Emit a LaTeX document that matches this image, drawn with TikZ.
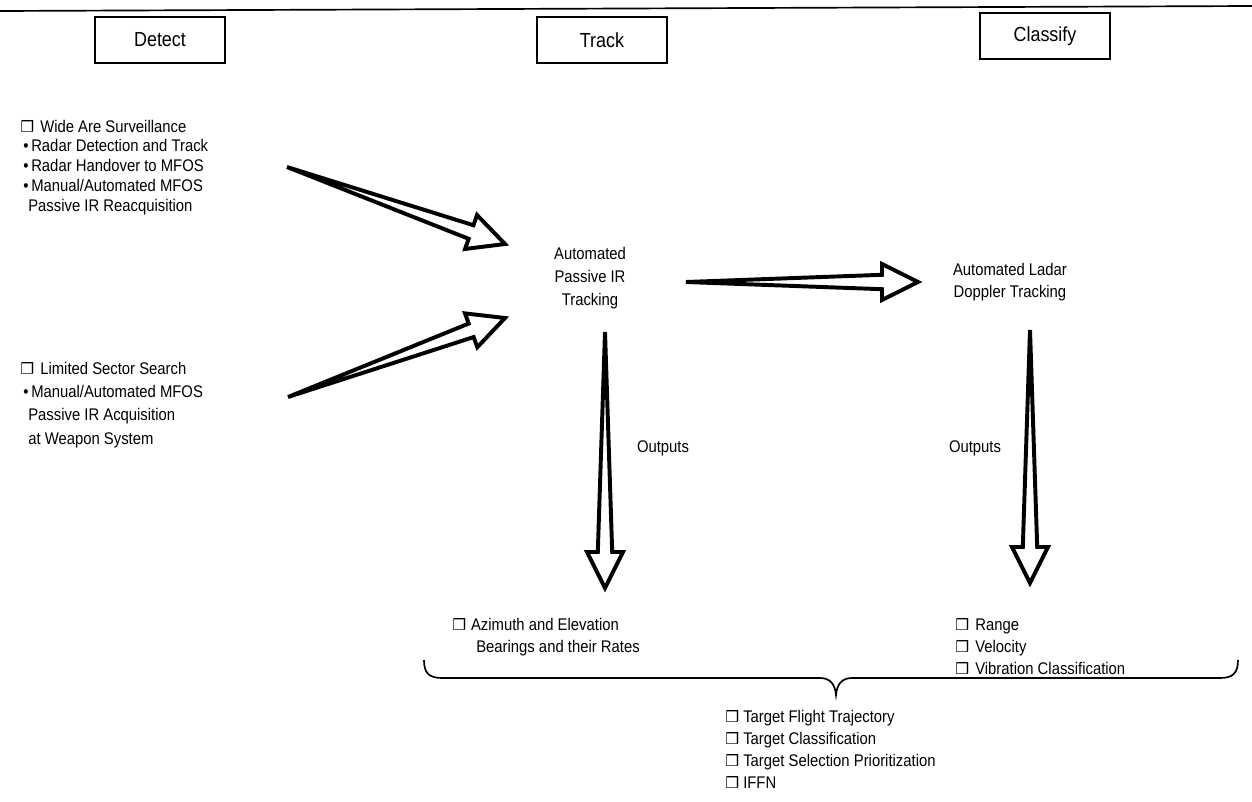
\documentclass[tikz,border=0pt]{standalone}
\usepackage{fontspec}
\setmainfont{Liberation Sans}[FakeStretch=0.88]
\newfontfamily\symfont{DejaVu Sans}
\usetikzlibrary{calc}

% check box and bullet marks
\newcommand{\chk}[1][0.5cm]{\makebox[#1][l]{{\symfont\fontsize{11}{12}\selectfont ❒}}}
\newcommand{\bul}{\makebox[0.2cm][l]{\textbullet}}

% hollow wedge arrow from a tail point to a tip point
\newcommand{\wedgearrow}[2]{%
  \path ($(#2)!0.9cm!(#1)$) coordinate (hb);
  \draw[wedge] (#1) -- ($(hb)!0.18cm!90:(#2)$) -- ($(hb)!0.45cm!90:(#2)$) -- (#2)
    -- ($(hb)!0.45cm!-90:(#2)$) -- ($(hb)!0.18cm!-90:(#2)$) -- cycle;}

\begin{document}
\begin{tikzpicture}[
    x=0.025cm, y=-0.025cm,
    font=\fontsize{12}{15}\selectfont,
    phase/.style={draw, line width=1pt, minimum width=3.25cm, minimum height=1.15cm,
      font=\fontsize{14.5}{16}\selectfont},
    item/.style={anchor=west, inner sep=0pt, text height=1.6ex, text depth=0.3ex},
    label/.style={align=center, inner sep=0pt},
    wedge/.style={line width=2.8pt, line join=miter, fill=white}
]

\useasboundingbox (0,0) rectangle (1252,802);

% Top rule
\draw[line width=1.2pt] (0,11) -- (1252,6);

% Phase boxes
\node[phase] (detect) at (160,40) {Detect};
\node[phase] (track) at (602,40) {Track};
\node[phase] (classify) at (1045,36) {Classify};

% Detect inputs
\node[item] (wide) at (20,128) {\chk Wide Are Surveillance};
\node[item] (radar1) at (23,147) {\bul Radar Detection and Track};
\node[item] (radar2) at (23,167) {\bul Radar Handover to MFOS};
\node[item] (manual1) at (23,187) {\bul Manual/Automated MFOS};
\node[item] (reacq) at (28,207) {Passive IR Reacquisition};

\node[item] (sector) at (20,370) {\chk Limited Sector Search};
\node[item] (manual2) at (23,393) {\bul Manual/Automated MFOS};
\node[item] (acq) at (28,416) {Passive IR Acquisition};
\node[item] (weapon) at (28,440) {at Weapon System};

% Tracking stages
\node[label, font=\fontsize{12}{16.4}\selectfont] (irtrack) at (590,278) {Automated\\Passive IR\\Tracking};
\node[label, font=\fontsize{12}{15.6}\selectfont] (ladar) at (1010,282) {Automated Ladar\\Doppler Tracking};

% Arrow end points
\coordinate (wideTail) at (287,167);
\coordinate (wideTip) at (505,244);
\coordinate (sectorTail) at (288,397);
\coordinate (sectorTip) at (505,318);
\coordinate (handTail) at (686,282);
\coordinate (handTip) at (918,282);
\coordinate (irOut) at (605,332);
\coordinate (irOutTip) at (605,588);
\coordinate (ladarOut) at (1030,330);
\coordinate (ladarOutTip) at (1030,583);

\wedgearrow{wideTail}{wideTip}
\wedgearrow{sectorTail}{sectorTip}
\wedgearrow{handTail}{handTip}
\wedgearrow{irOut}{irOutTip}
\wedgearrow{ladarOut}{ladarOutTip}

\node[label] (out1) at (663,448) {Outputs};
\node[label] (out2) at (975,448) {Outputs};

% Outputs
\node[item] (azimuth) at (452,626) {\chk[0.47cm]Azimuth and Elevation};
\node[item] (bearings) at (476,648) {Bearings and their Rates};

\node[item] (range) at (955,626) {\chk Range};
\node[item] (velocity) at (955,648) {\chk Velocity};
\node[item] (vibration) at (955,670) {\chk Vibration Classification};

% Brace
\draw[line width=1.2pt] (424,660) .. controls (424,673) and (429,678) .. (442,678)
  -- (820,678) .. controls (830,678) and (835,684) .. (836,695)
  .. controls (837,684) and (842,678) .. (852,678)
  -- (1220,678) .. controls (1233,678) and (1238,673) .. (1238,660);

% Combined results
\node[item] (trajectory) at (725,718) {\chk[0.45cm]Target Flight Trajectory};
\node[item] (targetcls) at (725,740) {\chk[0.45cm]Target Classification};
\node[item] (priority) at (725,762) {\chk[0.45cm]Target Selection Prioritization};
\node[item] (iffn) at (725,784) {\chk[0.45cm]IFFN};

\end{tikzpicture}
\end{document}
